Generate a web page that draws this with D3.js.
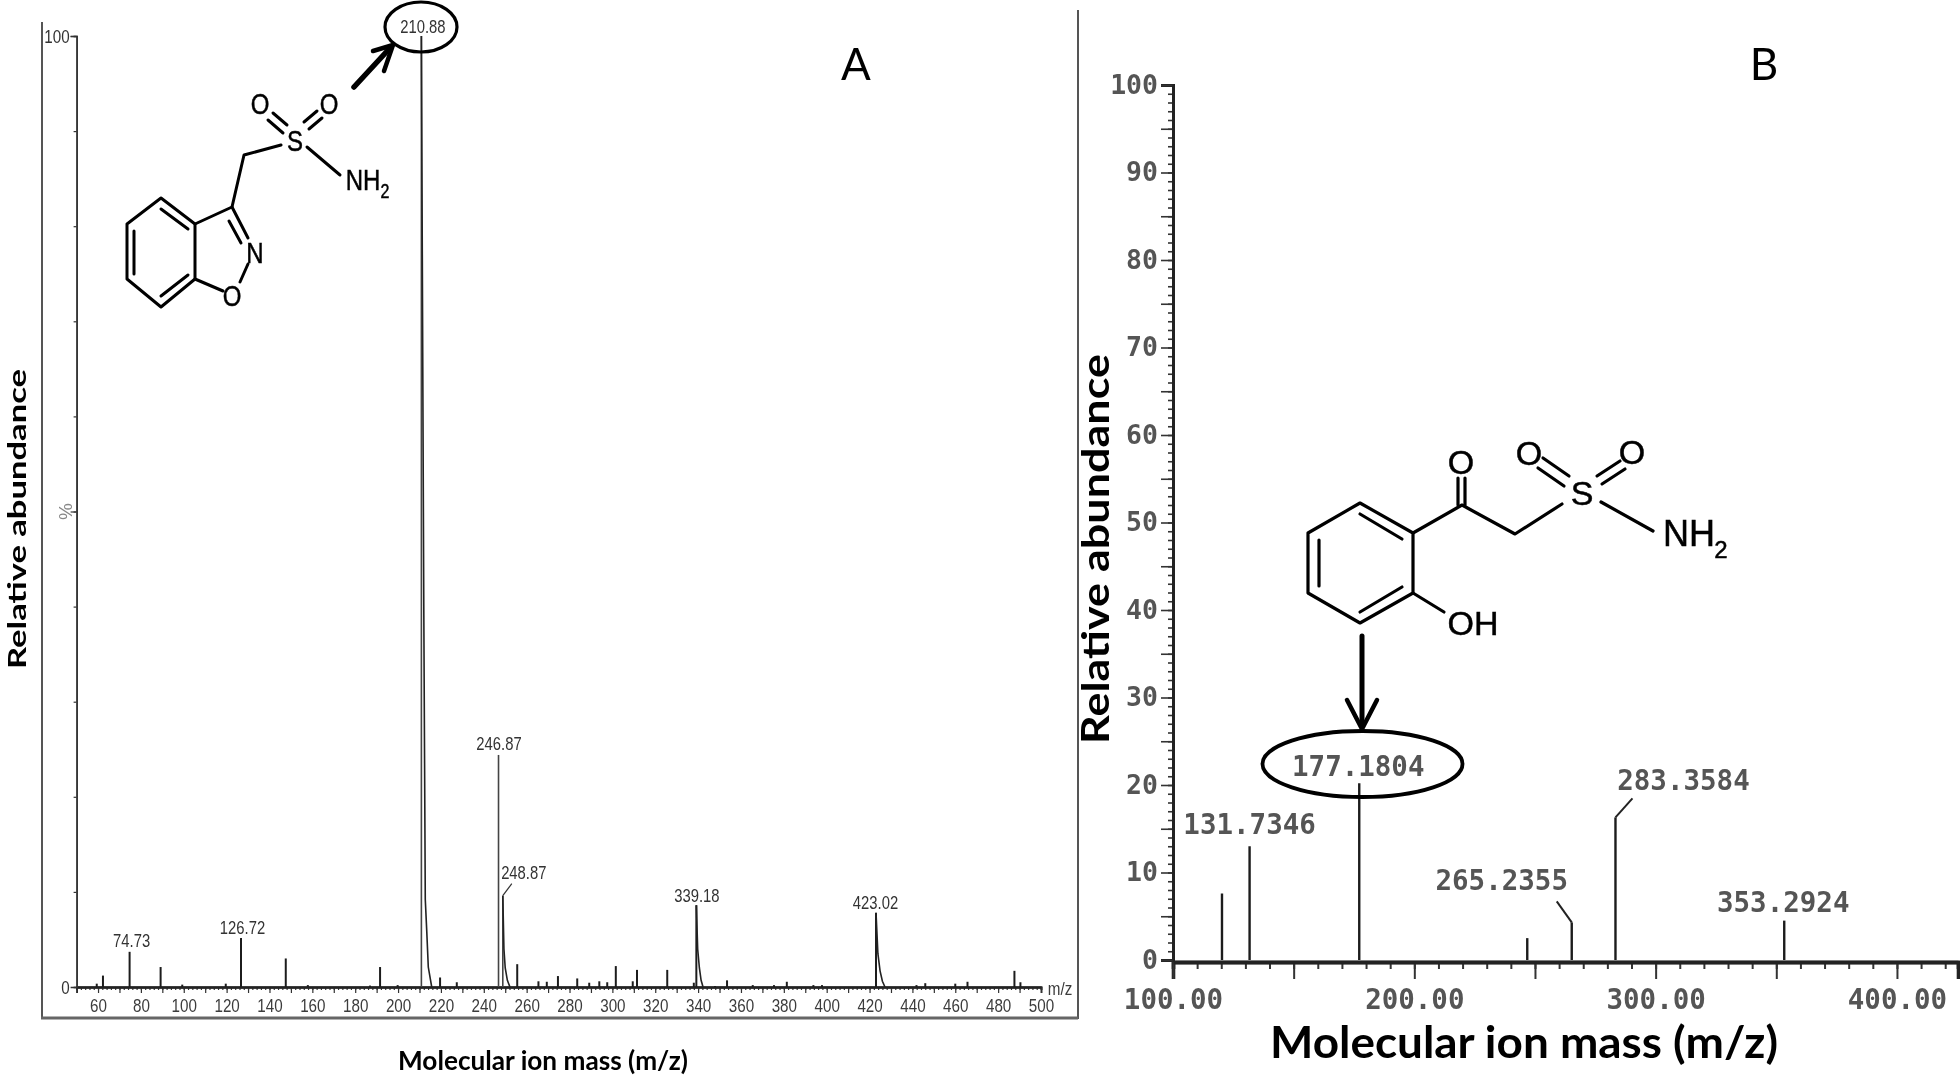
<!DOCTYPE html>
<html>
<head>
<meta charset="utf-8">
<script src="https://cdn.jsdelivr.net/npm/d3@7"></script>
<style>
    html, body { margin: 0; padding: 0; background: #fff; }
    svg { display: block; filter: blur(0.5px); }
    .title { font-family: Lato, "Open Sans", sans-serif; font-weight: 700; fill: #000; }
    .narrow { font-family: "Liberation Sans", Arial, sans-serif; fill: #333; }
    .mono { font-family: "DejaVu Sans Mono", monospace; font-weight: 700; fill: #555; }
    .atom { font-family: "Liberation Sans", Arial, sans-serif; fill: #000; stroke: #000; stroke-width: 0.5px; }
</style>
</head>
<body>
<svg id="chart" width="1960" height="1079"></svg>
<script>
// Panel A: stick peaks
const massA = [59.4, 62.3, 74.73, 89.2, 99.3, 119.6, 126.72, 147.6, 157.9, 186.9, 191.6, 199.8, 210.88, 219.6, 227.4,
    246.87, 248.87, 255.6, 265.5, 269.4, 274.6, 283.6, 289.2, 293.9, 297.6, 301.6, 309.5, 311.5, 325.6, 338, 339.18,
    347.9, 353.5, 365.5, 375.4, 381.4, 393.8, 397.8, 423.02, 441.9, 446, 460, 465.7, 487.6, 490.4];
const abundA = [0.35, 1.2, 3.7, 2.1, 0.25, 0.35, 5.15, 3, 0.2, 0.15, 2.1, 0.2, 100, 1, 0.5,
    24.4, 9.6, 2.4, 0.6, 0.55, 1.15, 0.9, 0.45, 0.6, 0.5, 2.2, 0.6, 1.8, 1.8, 0.45, 8.6,
    0.1, 0.7, 0.2, 0.2, 0.55, 0.2, 0.2, 7.8, 0.2, 0.4, 0.35, 0.55, 1.7, 0.5];

// Falling edge of the four big peaks in A
const tail210 = [[210.88, 100], [212, 40], [212.7, 9.2], [213.4, 5.8], [214.1, 2.1], [215.7, 0]];
const tail248 = [[248.87, 9.6], [249.4, 4], [250, 2], [251, 0.7], [252.2, 0]];
const tail339 = [[339.18, 8.6], [339.8, 4], [340.6, 2], [341.4, 0.7], [342.3, 0]];
const tail423 = [[423.02, 7.8], [423.9, 3.5], [424.9, 1.7], [426, 0.6], [427.2, 0]];

const labelsA = [74.73, 126.72, 210.88, 246.87, 248.87, 339.18, 423.02];
const ticksAx = d3.range(60, 501, 20);
const ticksAy = d3.range(0, 101, 10);

// Panel B
const massB = [120.3, 131.7346, 177.1804, 246.8, 265.2355, 283.3584, 353.2924];
const abundB = [7.6, 13, 20.2, 2.5, 4.3, 16.3, 4.5];
const labelsB = ["131.7346", "177.1804", "265.2355", "283.3584", "353.2924"];
const ticksBx = [100, 200, 300, 400];
const ticksBy = d3.range(0, 101, 10);

const svg = d3.select("#chart");

const xA = d3.scaleLinear().domain([50, 500]).range([76.6, 1041]);
const yA = d3.scaleLinear().domain([0, 100]).range([987, 36]);
const xB = d3.scaleLinear().domain([100, 425.3]).range([1173, 1958]);
const yB = d3.scaleLinear().domain([0, 100]).range([960, 85]);

// The spectrometer font is a tall narrow one, no narrow face is installed so squeeze it
function squeeze(sel, ratio) {
    sel.each(function () {
        const w = this.getComputedTextLength();
        d3.select(this).attr("textLength", w * ratio).attr("lengthAdjust", "spacingAndGlyphs");
    });
}

// frame around panel A
svg.append("path")
    .attr("d", "M42,22V1018H1078V10")
    .attr("fill", "none").attr("stroke", "#555").attr("stroke-width", 2);
svg.append("line").attr("x1", 41).attr("x2", 1078).attr("y1", 1018).attr("y2", 1018)
    .attr("stroke", "#666").attr("stroke-width", 3);

function drawAxisA() {
    const gx = svg.append("g").attr("transform", `translate(0,${yA(0)})`);
    gx.append("g").call(d3.axisBottom(xA).tickValues(d3.range(50, 501, 2)).tickSize(3).tickFormat(""));
    gx.append("g").call(d3.axisBottom(xA).tickValues(d3.range(50, 501, 10)).tickSize(6).tickFormat(""));
    gx.append("g").call(d3.axisBottom(xA).tickValues(ticksAx).tickSize(0).tickPadding(12))
        .call(g => g.selectAll("text").attr("class", "narrow").style("font-size", "19px").style("fill", "#3c3c3c")
            .call(squeeze, 0.8));
    gx.selectAll("path.domain").attr("stroke", "#222").attr("stroke-width", 1.8);
    gx.selectAll("line").attr("stroke", "#333").attr("stroke-width", 1.2);

    const gy = svg.append("g").attr("transform", `translate(${xA(50)},0)`);
    gy.append("g").call(d3.axisLeft(yA).tickValues(ticksAy).tickSize(3).tickFormat(""));
    gy.append("g").call(d3.axisLeft(yA).tickValues([50, 100]).tickSize(6).tickFormat(""));
    gy.selectAll("path.domain").attr("stroke", "#333").attr("stroke-width", 1.5);
    gy.selectAll("line").attr("stroke", "#333").attr("stroke-width", 1.2);

    const yText = [[0, "0", "#333"], [50, "%", "#888"], [100, "100", "#333"]];
    yText.forEach(([v, s, c]) => {
        const t = svg.append("text").attr("class", "narrow")
            .attr("dominant-baseline", "central").style("font-size", "19px").style("fill", c).text(s);
        if (s === "%") {
            t.attr("text-anchor", "middle")
                .attr("transform", `translate(${xA(50) - 11},${yA(v)}) rotate(-90)`);
        } else {
            t.attr("text-anchor", "end").attr("x", xA(50) - 7).attr("y", yA(v)).call(squeeze, 0.8);
        }
    });
    svg.append("text").attr("class", "narrow").attr("x", xA(500) + 19).attr("y", yA(0) + 1)
        .attr("text-anchor", "middle").attr("dominant-baseline", "central")
        .style("font-size", "19px").style("fill", "#3c3c3c").text("m/z").call(squeeze, 0.8);
}

function drawPeaksA() {
    const g = svg.append("g");
    g.selectAll("line")
        .data(d3.range(massA.length))
        .join("line")
        .attr("x1", i => xA(massA[i])).attr("x2", i => xA(massA[i]))
        .attr("y1", yA(0)).attr("y2", i => yA(abundA[i]))
        .attr("stroke", i => abundA[i] > 9 ? "#444" : "#1c1c1c")
        .attr("stroke-width", i => abundA[i] > 9 ? 1.6 : 2);

    const edge = d3.line().x(d => xA(d[0])).y(d => yA(d[1])).curve(d3.curveLinear);
    [tail210, tail248, tail339, tail423].forEach(t => {
        g.append("path").attr("d", edge(t)).attr("fill", "none")
            .attr("stroke", "#222").attr("stroke-width", 1.6);
    });

    // tag offsets from the peak top
    const offA = { 74.73: [2, -11], 126.72: [1.5, -11], 210.88: [1.5, -10], 246.87: [0.5, -11],
        248.87: [21, -23], 339.18: [0.5, -10], 423.02: [-0.5, -10] };
    labelsA.forEach(m => {
        const top = abundA[massA.indexOf(m)];
        svg.append("text").attr("class", "narrow")
            .attr("x", xA(m) + offA[m][0]).attr("y", yA(top) + offA[m][1])
            .attr("text-anchor", "middle").attr("dominant-baseline", "central")
            .style("font-size", "19px").text(m.toFixed(2)).call(squeeze, 0.78);
    });
    svg.append("line").attr("x1", xA(248.87)).attr("y1", yA(9.6))
        .attr("x2", xA(248.87) + 9).attr("y2", yA(9.6) - 12)
        .attr("stroke", "#333").attr("stroke-width", 1.2);
}

function drawAxisB() {
    const gx = svg.append("g").attr("transform", `translate(0,${yB(0) + 2})`);
    gx.append("g").call(d3.axisBottom(xB).tickValues(d3.range(100, 426, 10)).tickSize(7).tickFormat(""));
    gx.append("g").call(d3.axisBottom(xB).tickValues(d3.range(100, 426, 50)).tickSize(17).tickFormat(""));
    gx.append("g").call(d3.axisBottom(xB).tickValues(ticksBx).tickSize(0).tickPadding(27)
            .tickFormat(d => d.toFixed(2)))
        .call(g => g.selectAll("text").attr("class", "mono").style("font-size", "27.5px"));
    gx.selectAll("path.domain").attr("stroke", "#222").attr("stroke-width", 3.6);
    gx.selectAll("line").attr("stroke", "#333").attr("stroke-width", 2);

    const gy = svg.append("g").attr("transform", `translate(${xB(100)},0)`);
    gy.append("g").call(d3.axisLeft(yB).tickValues(d3.range(0, 101, 1)).tickSize(5).tickFormat(""));
    gy.append("g").call(d3.axisLeft(yB).tickValues(d3.range(0, 101, 5)).tickSize(12).tickFormat(""));
    gy.append("g").call(d3.axisLeft(yB).tickValues(ticksBy).tickSize(0).tickPadding(15))
        .call(g => g.selectAll("text").attr("class", "mono").style("font-size", "26.5px"));
    gy.selectAll("path.domain").attr("stroke", "#222").attr("stroke-width", 3);
    gy.selectAll("line").attr("stroke", "#333").attr("stroke-width", 1.6);
}

function drawPeaksB() {
    svg.append("g").selectAll("line")
        .data(d3.range(massB.length))
        .join("line")
        .attr("x1", i => xB(massB[i])).attr("x2", i => xB(massB[i]))
        .attr("y1", yB(0)).attr("y2", i => yB(abundB[i]))
        .attr("stroke", "#1c1c1c").attr("stroke-width", 2.4);

    const offB = { "131.7346": [0, -22], "177.1804": [-1, -17], "265.2355": [-70, -42],
        "283.3584": [68, -37], "353.2924": [-1, -19] };
    labelsB.forEach(s => {
        const m = +s;
        const top = abundB[massB.indexOf(m)];
        svg.append("text").attr("class", "mono")
            .attr("x", xB(m) + offB[s][0]).attr("y", yB(top) + offB[s][1])
            .attr("text-anchor", "middle").attr("dominant-baseline", "central")
            .style("font-size", "27.5px").text(s);
    });
    // leaders for the two tags set off to the side
    [[265.2355, 4.3, -15, -21], [283.3584, 16.3, 17, -19]].forEach(([m, v, dx, dy]) => {
        svg.append("line").attr("x1", xB(m)).attr("y1", yB(v))
            .attr("x2", xB(m) + dx).attr("y2", yB(v) + dy)
            .attr("stroke", "#222").attr("stroke-width", 2);
    });
}

function bondPath(g, pts, width) {
    g.append("path").attr("d", d3.line()(pts)).attr("fill", "none")
        .attr("stroke", "#000").attr("stroke-width", width)
        .attr("stroke-linecap", "round").attr("stroke-linejoin", "round");
}

function atom(g, x, y, s, size) {
    return g.append("text").attr("class", "atom").attr("x", x).attr("y", y)
        .attr("text-anchor", "middle").attr("dominant-baseline", "central")
        .style("font-size", size + "px").text(s);
}

// benzisoxazole sulfonamide, panel A
function drawStructureA() {
    const g = svg.append("g");
    const w = 3;
    bondPath(g, [[195, 224], [161, 198], [127, 224], [127, 279], [161, 307], [195, 279], [195, 224]], w);
    bondPath(g, [[161, 209], [188, 229]], w);
    bondPath(g, [[134, 231], [134, 274]], w);
    bondPath(g, [[161, 296], [188, 275]], w);
    bondPath(g, [[195, 224], [232, 207], [244, 155], [281, 145]], w);
    bondPath(g, [[232, 207], [248, 238]], w);
    bondPath(g, [[229, 221], [241, 243]], w);
    bondPath(g, [[248, 264], [240, 282]], w);
    bondPath(g, [[195, 279], [223, 291]], w);
    bondPath(g, [[307, 147], [340, 175]], w);
    bondPath(g, [[273, 113], [287, 125]], w);
    bondPath(g, [[268, 120], [283, 133]], w);
    bondPath(g, [[304, 122], [317, 111]], w);
    bondPath(g, [[309, 129], [322, 118]], w);

    const sz = 30;
    [atom(g, 295, 140, "S", sz), atom(g, 260, 103, "O", sz), atom(g, 329, 103, "O", sz),
        atom(g, 255, 252, "N", sz), atom(g, 232, 295, "O", sz), atom(g, 363, 179, "NH", sz)]
        .forEach(t => t.call(squeeze, 0.8));
    atom(g, 385, 191, "2", 20).call(squeeze, 0.8);

    // arrow to the base peak
    bondPath(g, [[354, 87], [390, 48]], 5.5);
    bondPath(g, [[373, 51], [393, 45], [384, 71]], 4.5);
    g.append("ellipse").attr("cx", 421).attr("cy", 27).attr("rx", 36).attr("ry", 25)
        .attr("fill", "none").attr("stroke", "#000").attr("stroke-width", 3.2);
}

// hydroxyphenyl keto sulfonamide, panel B
function drawStructureB() {
    const g = svg.append("g");
    const w = 3.2;
    bondPath(g, [[1413, 533], [1360, 503], [1308, 533], [1308, 593], [1360, 623], [1413, 593], [1413, 533]], w);
    bondPath(g, [[1360, 514], [1402, 539]], w);
    bondPath(g, [[1319, 540], [1319, 586]], w);
    bondPath(g, [[1360, 612], [1402, 587]], w);
    bondPath(g, [[1413, 533], [1462, 505], [1515, 534], [1562, 504]], w);
    bondPath(g, [[1458, 505], [1458, 478]], w);
    bondPath(g, [[1465, 505], [1465, 478]], w);
    bondPath(g, [[1413, 593], [1444, 612]], w);
    bondPath(g, [[1601, 502], [1653, 531]], w);
    bondPath(g, [[1543, 458], [1569, 476]], w);
    bondPath(g, [[1538, 468], [1564, 486]], w);
    bondPath(g, [[1597, 476], [1620, 461]], w);
    bondPath(g, [[1602, 484], [1625, 469]], w);

    atom(g, 1582, 493, "S", 34);
    atom(g, 1461, 462, "O", 34);
    atom(g, 1529, 453, "O", 34);
    atom(g, 1632, 452, "O", 34);
    atom(g, 1473, 623, "OH", 34);
    atom(g, 1689, 533, "NH", 36);
    atom(g, 1721, 549, "2", 24);

    bondPath(g, [[1362, 636], [1362, 726]], 5);
    bondPath(g, [[1347, 700], [1362, 729], [1377, 700]], 4.5);
    g.append("ellipse").attr("cx", 1362.5).attr("cy", 764).attr("rx", 100).attr("ry", 33)
        .attr("fill", "none").attr("stroke", "#000").attr("stroke-width", 3.8);
}

function drawTitles() {
    const vertical = [["Relative abundance", 26, 519, 300, 25.5], ["Relative abundance", 1109, 549, 390, 38]];
    vertical.forEach(([s, x, y, len, size]) => {
        svg.append("text").attr("class", "title")
            .attr("transform", `translate(${x},${y}) rotate(-90)`)
            .attr("text-anchor", "middle")
            .attr("textLength", len).attr("lengthAdjust", "spacingAndGlyphs")
            .style("font-size", size + "px").text(s);
    });
    const horizontal = [["Molecular ion mass (m/z)", 543, 1070, 290, 27], ["Molecular ion mass (m/z)", 1524, 1058, 508, 44]];
    horizontal.forEach(([s, x, y, len, size]) => {
        svg.append("text").attr("class", "title")
            .attr("x", x).attr("y", y).attr("text-anchor", "middle")
            .attr("textLength", len).attr("lengthAdjust", "spacingAndGlyphs")
            .style("font-size", size + "px").text(s);
    });
    [["A", 856, 80], ["B", 1764, 80]].forEach(([s, x, y]) => {
        svg.append("text").attr("x", x).attr("y", y).attr("text-anchor", "middle")
            .style("font-family", "Lato, sans-serif").style("font-size", "44px").text(s);
    });
}

drawAxisA();
drawPeaksA();
drawAxisB();
drawPeaksB();
drawStructureA();
drawStructureB();
drawTitles();
</script>
</body>
</html>
